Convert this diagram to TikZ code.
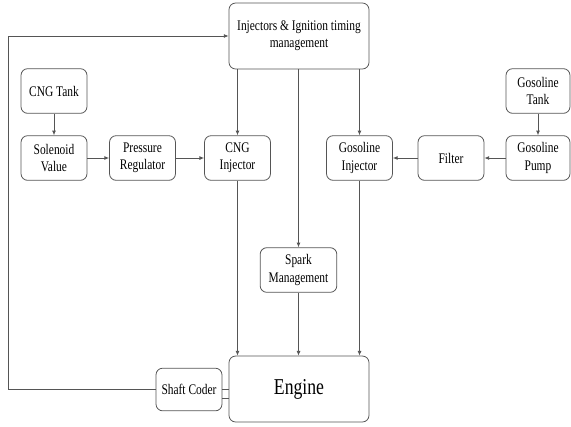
\documentclass[tikz,border=0pt]{standalone}
\usepackage{fontspec}
\setmainfont[FakeStretch=0.78]{Liberation Serif}
\usetikzlibrary{arrows.meta}
\definecolor{linegray}{HTML}{555555}
\begin{document}
\begin{tikzpicture}[x=0.75pt, y=-0.75pt,
    blk/.style={draw=linegray, line width=0.6pt, rounded corners=5pt, align=center,
                inner sep=0pt, font=\fontsize{11}{13}\selectfont,
                minimum width=49.5pt, minimum height=33.5pt},
    arr/.style={draw=linegray, line width=0.6pt, -{Latex[length=3.5pt,width=3pt]}},
    lin/.style={draw=linegray, line width=0.6pt}]
    \useasboundingbox (0,0) rectangle (571,426);
    % Bloques
    \node[blk, minimum width=105pt, minimum height=49.5pt] (inj) at (299,36) {Injectors \& Ignition timing\\management};
    \node[blk] (cngtank) at (54,91) {CNG Tank};
    \node[blk] (sol) at (54,158) {Solenoid\\Value};
    \node[blk] (preg) at (142.5,158) {Pressure\\Regulator};
    \node[blk] (cnginj) at (237.5,158) {CNG\\Injector};
    \node[blk] (gosinj) at (359.5,158) {Gosoline\\Injector};
    \node[blk] (filter) at (451,158) {Filter};
    \node[blk, minimum width=48pt] (pump) at (538,158) {Gosoline\\Pump};
    \node[blk, minimum width=48pt] (gostank) at (538,91) {Gosoline\\Tank};
    \node[blk, minimum width=57.5pt] (spark) at (298.5,270) {Spark\\Management};
    \node[blk, minimum width=105pt, minimum height=49.5pt, font=\fontsize{17}{20}\selectfont] (engine) at (299,389) {Engine};
    \node[blk, minimum height=32pt] (shaft) at (189,389.5) {Shaft Coder};
    \coordinate (fb) at (8,389.5);
    % Linea de gas
    \draw[arr] (cngtank) -- (sol);
    \draw[arr] (sol) -- (preg);
    \draw[arr] (preg) -- (cnginj);
    % Linea de gasolina
    \draw[arr] (gostank) -- (pump);
    \draw[arr] (pump) -- (filter);
    \draw[arr] (filter) -- (gosinj);
    % Control
    \draw[arr] (inj.south -| cnginj.north) -- (cnginj.north);
    \draw[arr] (inj.south -| spark.north) -- (spark.north);
    \draw[arr] (inj.south -| gosinj.north) -- (gosinj.north);
    % Hacia el motor
    \draw[arr] (cnginj.south) -- (cnginj.south |- engine.north);
    \draw[arr] (spark.south) -- (spark.south |- engine.north);
    \draw[arr] (gosinj.south) -- (gosinj.south |- engine.north);
    % Realimentacion
    \draw[lin] (shaft.east) -- (shaft.east -| engine.west);
    \draw[lin] ([yshift=-6.75pt]shaft.east) -- ([yshift=-6.75pt]shaft.east -| engine.west);
    \draw[arr] (shaft.west) -- (fb) |- (inj.west);
\end{tikzpicture}
\end{document}
